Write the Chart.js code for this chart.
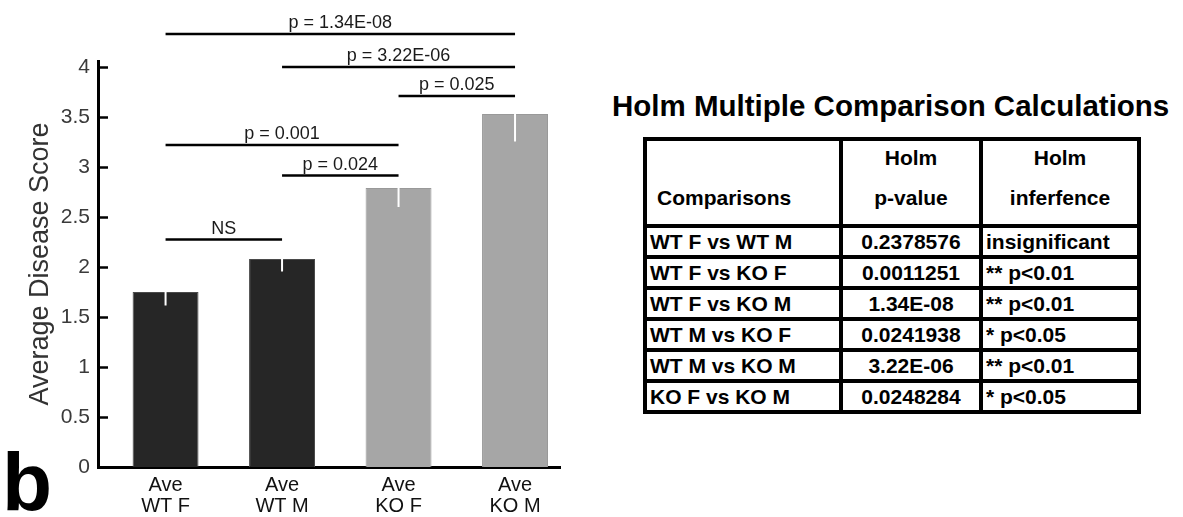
<!DOCTYPE html>
<html>
<head>
<meta charset="utf-8">
<title>Average Disease Score</title>
<script src="https://cdn.jsdelivr.net/npm/chart.js@4.4.1/dist/chart.umd.min.js"></script>
<style>
  html, body { margin: 0; padding: 0; background: #fff; }
  body {
    width: 1183px; height: 517px; position: relative; overflow: hidden;
    font-family: "Liberation Sans", Arial, sans-serif; color: #000;
  }
  #chart-box { position: absolute; left: 0; top: 0; width: 600px; height: 517px; }
  #holm-title {
    position: absolute; left: 612px; top: 91px;
    font-size: 29.5px; line-height: 29.5px; font-weight: bold; white-space: nowrap;
  }
  #holm-table {
    position: absolute; left: 643px; top: 137px;
    border-collapse: collapse; table-layout: fixed;
    font-weight: bold; font-size: 21px;
  }
  #holm-table td, #holm-table th {
    border: 4px solid #000; padding: 0 3px; white-space: nowrap;
    line-height: 1; overflow: hidden;
  }
  #holm-table th { vertical-align: top; font-size: 21px; text-align: center; }
  #holm-table th .l1 { height: 34px; line-height: 34px; }
  #holm-table th .l2 { line-height: 46px; }
  #holm-table th.first { text-align: left; padding-left: 10px; }
  #holm-table tr.head { height: 87px; }
  #holm-table tr.row { height: 31px; }
  #holm-table td.mid { text-align: center; }
</style>
</head>
<body>
<div id="chart-box"><canvas id="score-canvas"></canvas></div>

<div id="holm-title">Holm Multiple Comparison Calculations</div>
<table id="holm-table">
  <colgroup><col style="width:196px"><col style="width:140px"><col style="width:158px"></colgroup>
  <thead>
    <tr class="head">
      <th class="first"><div class="l1">&nbsp;</div><div class="l2">Comparisons</div></th>
      <th><div class="l1">Holm</div><div class="l2">p-value</div></th>
      <th><div class="l1">Holm</div><div class="l2">inferfence</div></th>
    </tr>
  </thead>
  <tbody id="holm-body"></tbody>
</table>

<script>
// Barras
const categories = [['Ave', 'WT F'], ['Ave', 'WT M'], ['Ave', 'KO F'], ['Ave', 'KO M']];
const meanScores = [1.75, 2.08, 2.79, 3.53];
const errorBars = [0.135, 0.125, 0.19, 0.275];

// Comparações marcadas acima das barras
const sigPairs = [[0, 3], [1, 3], [2, 3], [0, 2], [1, 2], [0, 1]];
const sigLevels = [4.33, 4.0, 3.71, 3.22, 2.915, 2.275];
const sigLabels = ['p = 1.34E-08', 'p = 3.22E-06', 'p = 0.025', 'p = 0.001', 'p = 0.024', 'NS'];

// Tabela Holm
const comparisons = ['WT F vs WT M', 'WT F vs KO F', 'WT F vs KO M', 'WT M vs KO F', 'WT M vs KO M', 'KO F vs KO M'];
const holmPValues = ['0.2378576', '0.0011251', '1.34E-08', '0.0241938', '3.22E-06', '0.0248284'];
const holmInference = ['insignificant', '** p<0.01', '** p<0.01', '* p<0.05', '** p<0.01', '* p<0.05'];

const FONT = '"Liberation Sans", Arial, sans-serif';

// Preencher a tabela
const tbody = document.getElementById('holm-body');
comparisons.forEach((c, i) => {
    const tr = document.createElement('tr');
    tr.className = 'row';
    [c, holmPValues[i], holmInference[i]].forEach((txt, j) => {
        const td = document.createElement('td');
        td.innerText = txt;
        if (j === 1) td.className = 'mid';
        tr.appendChild(td);
    });
    tbody.appendChild(tr);
});

// Desenhos extras: barras de erro, ticks internos, colchetes de p-valor, letra do painel
const overlay = {
    id: 'overlay',
    afterDatasetsDraw(chart) {
        const ctx = chart.ctx;
        const y = chart.scales.y;
        const meta = chart.getDatasetMeta(0);
        ctx.save();
        ctx.strokeStyle = '#fff';
        ctx.lineWidth = 2;
        meta.data.forEach((bar, i) => {
            ctx.beginPath();
            ctx.moveTo(bar.x, y.getPixelForValue(meanScores[i]));
            ctx.lineTo(bar.x, y.getPixelForValue(meanScores[i] - errorBars[i]));
            ctx.stroke();
        });
        ctx.restore();
    },
    afterDraw(chart) {
        const ctx = chart.ctx;
        const x = chart.scales.x, y = chart.scales.y;
        const left = chart.chartArea.left;
        ctx.save();
        // ticks para dentro
        ctx.strokeStyle = '#000';
        ctx.lineWidth = 2.5;
        y.ticks.forEach(t => {
            const py = Math.round(y.getPixelForValue(t.value)) + 0.5;
            ctx.beginPath();
            ctx.moveTo(left, py);
            ctx.lineTo(left + 10, py);
            ctx.stroke();
        });
        // colchetes
        ctx.font = '18px ' + FONT;
        ctx.fillStyle = '#1a1a1a';
        ctx.textAlign = 'center';
        ctx.textBaseline = 'alphabetic';
        ctx.lineWidth = 2.5;
        sigPairs.forEach((p, i) => {
            const x1 = x.getPixelForValue(p[0]);
            const x2 = x.getPixelForValue(p[1]);
            const py = y.getPixelForValue(sigLevels[i]);
            ctx.beginPath();
            ctx.moveTo(x1, py);
            ctx.lineTo(x2, py);
            ctx.stroke();
            ctx.fillText(sigLabels[i], (x1 + x2) / 2, py - 6);
        });
        // letra do painel
        ctx.font = 'bold 82px ' + FONT;
        ctx.fillStyle = '#000';
        ctx.textAlign = 'left';
        ctx.fillText('b', 2, 510);
        ctx.restore();
    }
};

const config = {
    type: 'bar',
    data: {
        datasets: [{
            data: meanScores.map((v, i) => ({ x: i, y: v })),
            backgroundColor: ['#262626', '#262626', '#a6a6a6', '#a6a6a6'],
            borderColor: ['#4a4a4a', '#4a4a4a', '#999999', '#999999'],
            borderWidth: 1,
            barPercentage: 0.566,
            categoryPercentage: 1
        }]
    },
    options: {
        responsive: true,
        maintainAspectRatio: false,
        animation: false,
        layout: { padding: { top: 61, left: 20, right: 40, bottom: 0 } },
        plugins: {
            legend: { display: false },
            tooltip: { enabled: false }
        },
        scales: {
            x: {
                type: 'linear',
                offset: false,
                min: -0.58,
                max: 3.386,
                grid: { display: false, drawTicks: false },
                border: { display: true, color: '#000', width: 3 },
                ticks: {
                    stepSize: 1,
                    autoSkip: false,
                    includeBounds: false,
                    maxRotation: 0,
                    padding: 8,
                    color: '#111',
                    font: { family: FONT, size: 20, lineHeight: 1.05 },
                    callback: v => Number.isInteger(v) ? categories[v] : ''
                },
                afterFit: s => { s.height = 50; }
            },
            y: {
                min: 0,
                max: 4.06,
                grid: { display: false, drawTicks: false },
                border: { display: true, color: '#000', width: 3 },
                ticks: {
                    stepSize: 0.5,
                    includeBounds: false,
                    padding: 8,
                    color: '#3a3a3a',
                    font: { family: FONT, size: 21 },
                    callback: v => String(v)
                },
                title: {
                    display: true,
                    text: 'Average Disease Score',
                    color: '#333',
                    font: { family: FONT, size: 27 },
                    padding: { top: 4, bottom: 2 }
                },
                afterFit: s => { s.width = 78; }
            }
        }
    },
    plugins: [overlay]
};

window.onload = function() {
    const ctx = document.getElementById('score-canvas').getContext('2d');
    new Chart(ctx, config);
};
</script>
</body>
</html>
